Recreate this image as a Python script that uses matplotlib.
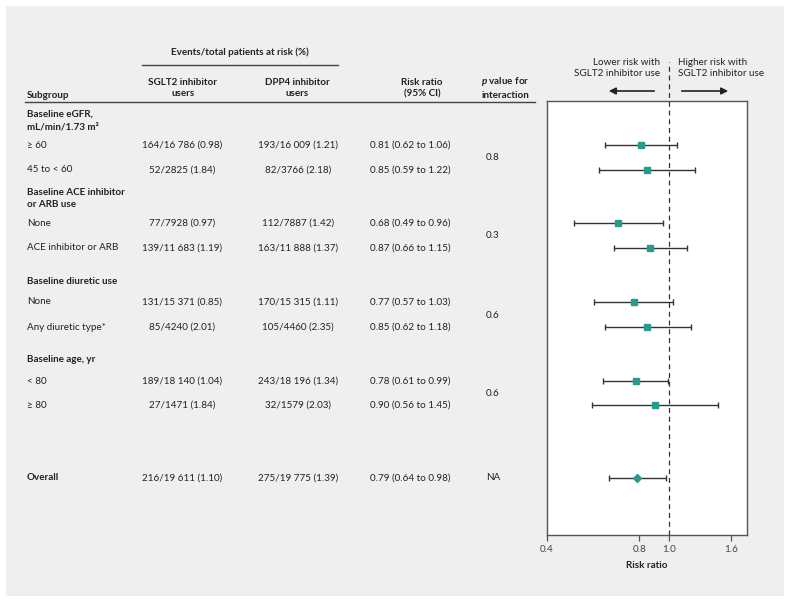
import numpy as np
import matplotlib.pyplot as plt
from matplotlib.patches import Rectangle

plt.rcParams['font.family'] = ['Lato', 'DejaVu Sans']
plt.rcParams['mathtext.fontset'] = 'custom'
plt.rcParams['mathtext.it'] = 'Lato:italic:bold'
plt.rcParams['mathtext.rm'] = 'Lato:bold'

# data
groups = ['Baseline eGFR,\nmL/min/1.73 m\u00b2', 'Baseline ACE inhibitor\nor ARB use',
          'Baseline diuretic use', 'Baseline age, yr']
subgroups = ['\u2265 60', '45 to < 60', 'None', 'ACE inhibitor or ARB',
             'None', 'Any diuretic type*', '< 80', '\u2265 80', 'Overall']
sglt2 = ['164/16 786 (0.98)', '52/2825 (1.84)', '77/7928 (0.97)', '139/11 683 (1.19)',
         '131/15 371 (0.85)', '85/4240 (2.01)', '189/18 140 (1.04)', '27/1471 (1.84)',
         '216/19 611 (1.10)']
dpp4 = ['193/16 009 (1.21)', '82/3766 (2.18)', '112/7887 (1.42)', '163/11 888 (1.37)',
        '170/15 315 (1.11)', '105/4460 (2.35)', '243/18 196 (1.34)', '32/1579 (2.03)',
        '275/19 775 (1.39)']
rr = np.array([0.81, 0.85, 0.68, 0.87, 0.77, 0.85, 0.78, 0.90, 0.79])
lo = np.array([0.62, 0.59, 0.49, 0.66, 0.57, 0.62, 0.61, 0.56, 0.64])
hi = np.array([1.06, 1.22, 0.96, 1.15, 1.03, 1.18, 0.99, 1.45, 0.98])
pvals = ['0.8', '0.3', '0.6', '0.6', 'NA']
xticks = [0.4, 0.8, 1.0, 1.6]

# layout (pixel rows)
row_y = [145, 170, 223, 248, 302, 327, 381, 405, 478]
group_y = [120.5, 198.5, 281, 359]
p_y = [158, 236, 315, 393, 478]

W, H = 791, 603
fig = plt.figure(figsize=(W / 100, H / 100), dpi=100)
fig.patch.set_facecolor('white')
bg = fig.add_axes([0, 0, 1, 1])
bg.set_xlim(0, W)
bg.set_ylim(H, 0)
bg.axis('off')
bg.add_patch(Rectangle((6, 6), 778, 590, facecolor='#eeefee', edgecolor='none'))

fs = 7.1
tc = '#222222'
bold = dict(fontsize=fs, fontweight='bold', color=tc)
norm = dict(fontsize=fs, color=tc)

# header
bg.text(240, 52, 'Events/total patients at risk (%)', ha='center', va='center', **bold)
bg.plot([142, 338], [65, 65], color='#444444', lw=1)
bg.text(27, 95, 'Subgroup', ha='left', va='center', **bold)
bg.text(183, 88, 'SGLT2 inhibitor\nusers', ha='center', va='center', linespacing=1.35, **bold)
bg.text(297, 88, 'DPP4 inhibitor\nusers', ha='center', va='center', linespacing=1.35, **bold)
bg.text(422, 88, 'Risk ratio\n(95% CI)', ha='center', va='center', linespacing=1.35, **bold)
bg.text(505, 82, r'$\mathit{p}$ value for', ha='center', va='center', **bold)
bg.text(505, 95, 'interaction', ha='center', va='center', **bold)
bg.plot([25, 535], [102, 102], color='#444444', lw=1)

for g, y in zip(groups, group_y):
    bg.text(27, y, g, ha='left', va='center', linespacing=1.45, **bold)

for i, y in enumerate(row_y):
    st = bold if subgroups[i] == 'Overall' else norm
    bg.text(27, y, subgroups[i], ha='left', va='center', **st)
    bg.text(182, y, sglt2[i], ha='center', va='center', **norm)
    bg.text(298, y, dpp4[i], ha='center', va='center', **norm)
    bg.text(370, y, '%.2f (%.2f to %.2f)' % (rr[i], lo[i], hi[i]), ha='left', va='center', **norm)

for p, y in zip(pvals, p_y):
    bg.text(493, y, p, ha='center', va='center', **norm)

# forest plot
ax = fig.add_axes([547 / W, 1 - 535 / H, 200 / W, 434 / H])
ax.set_facecolor('white')
ax.set_xscale('log')
ax.set_xlim(0.4, 1.8)
ax.set_ylim(535, 101)
teal = '#2a9a8e'
for i, y in enumerate(row_y):
    mk = 'D' if subgroups[i] == 'Overall' else 's'
    ms = 4.5 if mk == 'D' else 5
    ax.errorbar(rr[i], y, xerr=[[rr[i] - lo[i]], [hi[i] - rr[i]]], fmt='none',
                ecolor='#333333', elinewidth=1, capsize=2.5, capthick=1, zorder=2)
    ax.plot(rr[i], y, marker=mk, ms=ms, color=teal, mec=teal, ls='none', zorder=3)
ax.axvline(1.0, ymin=0, ymax=(535 - 62) / 434, color='#333333', lw=0.9,
           ls=(0, (4, 3)), clip_on=False, zorder=1)
ax.set_xticks(xticks)
ax.set_xticklabels(['%.1f' % t for t in xticks])
ax.minorticks_off()
ax.set_yticks([])
ax.tick_params(axis='x', direction='out', length=4, width=0.9, color='#555555',
               labelsize=fs, labelcolor='#444444', pad=3)
for s in ax.spines.values():
    s.set_color('#555555')
    s.set_linewidth(1)
ax.set_xlabel('Risk ratio', fontsize=fs, fontweight='bold', color=tc, labelpad=5)

# arrows and direction labels
bg.text(660, 68, 'Lower risk with\nSGLT2 inhibitor use', ha='right', va='center',
        linespacing=1.3, **norm)
bg.text(678, 68, 'Higher risk with\nSGLT2 inhibitor use', ha='left', va='center',
        linespacing=1.3, **norm)
bg.annotate('', xy=(606, 91), xytext=(657, 91),
            arrowprops=dict(arrowstyle='-|>', color='#222222', lw=1.2, mutation_scale=10))
bg.annotate('', xy=(731, 91), xytext=(679, 91),
            arrowprops=dict(arrowstyle='-|>', color='#222222', lw=1.2, mutation_scale=10))

fig.savefig('out.png', dpi=100, facecolor=fig.get_facecolor())
